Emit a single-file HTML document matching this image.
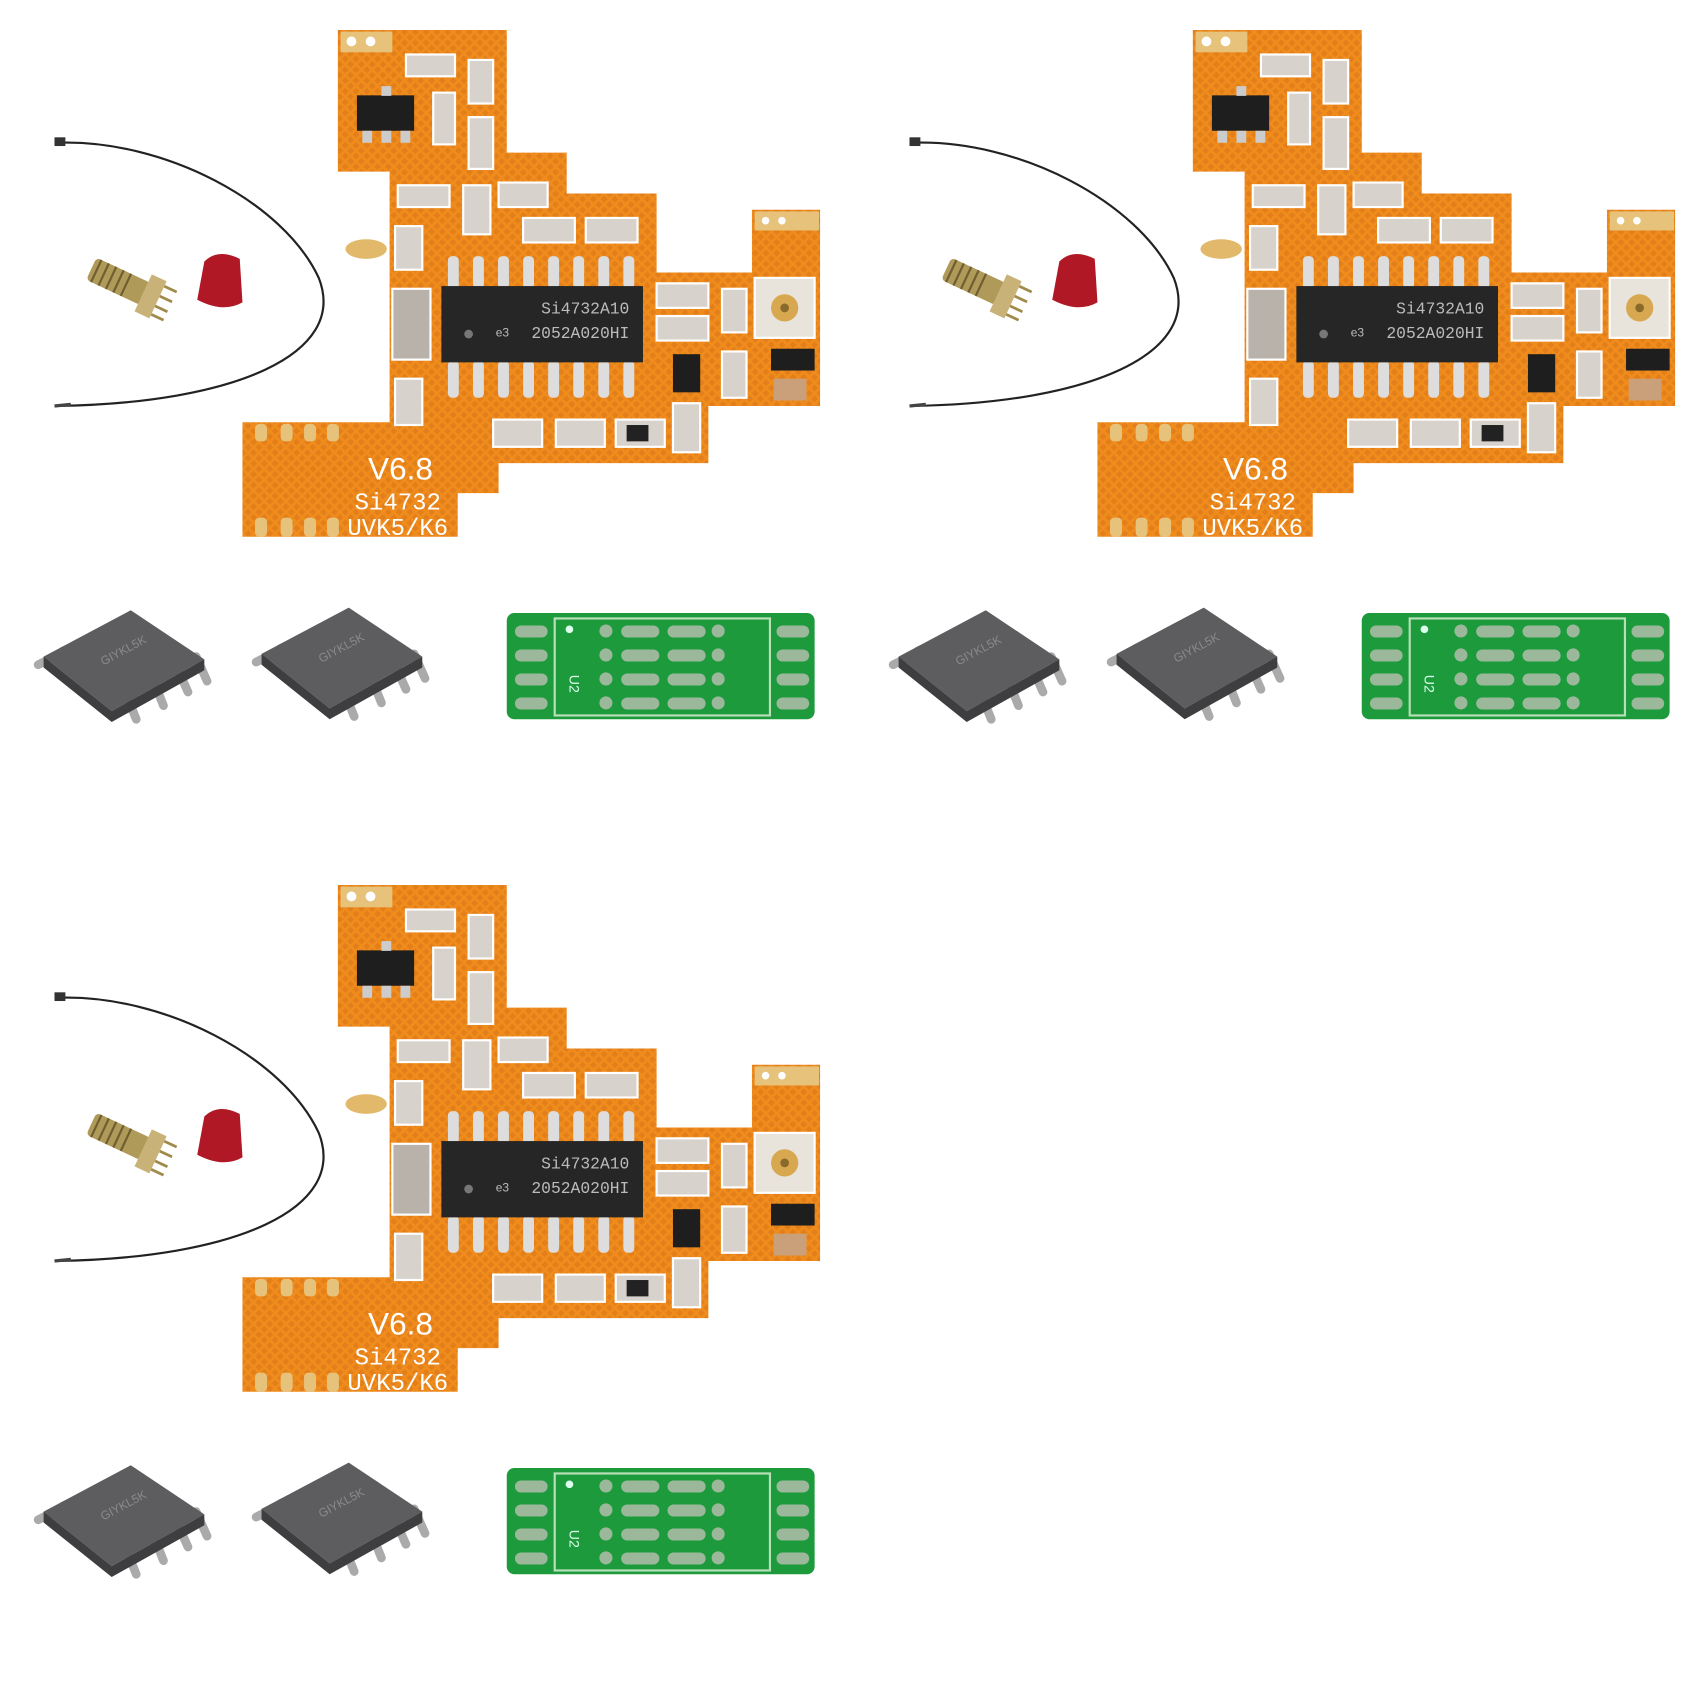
<!DOCTYPE html>
<html><head><meta charset="utf-8"><style>
html,body{margin:0;padding:0;background:#fff;width:1700px;height:1700px;overflow:hidden}
.t{position:absolute;width:850px;height:850px}
</style></head><body>
<svg width="1700" height="1700" style="position:absolute;left:0;top:0">
<defs>
<pattern id="hx" width="14" height="14" patternUnits="userSpaceOnUse" patternTransform="rotate(45)">
<rect width="14" height="14" fill="#ef8c1c"/><rect x="2" y="2" width="9" height="9" fill="#d9741a" opacity="0.55"/>
</pattern>
<g id="tile">
<!-- cable -->
<path d="M105,262 C300,255 520,370 585,510 C640,650 430,740 105,745" fill="none" stroke="#222" stroke-width="4"/>
<rect x="100" y="252" width="20" height="16" fill="#333"/>
<path d="M100,745 l30,-3" stroke="#444" stroke-width="6"/>
<!-- SMA -->
<g transform="rotate(25 230 525)">
<rect x="160" y="500" width="110" height="45" rx="8" fill="#b09a5a"/>
<path d="M170,500 v45 M185,500 v45 M200,500 v45 M215,500 v45 M230,500 v45" stroke="#6e5e30" stroke-width="4"/>
<rect x="265" y="485" width="30" height="75" fill="#c9b277"/>
<path d="M295,495 h25 M295,515 h25 M295,535 h25 M295,552 h25" stroke="#a08a4a" stroke-width="5"/>
</g>
<!-- red cap -->
<path d="M375,480 Q400,455 440,475 L445,555 Q410,575 362,550 Z" fill="#b01825"/>
<!-- board -->
<polygon points="620,55 930,55 930,280 1040,280 1040,355 1205,355 1205,500 1380,500 1380,385 1505,385 1505,745 1300,745 1300,850 915,850 915,905 840,905 840,985 445,985 445,775 715,775 715,315 620,315" fill="url(#hx)"/>
<rect x="625" y="58" width="95" height="38" fill="#e7c27a"/><circle cx="645" cy="76" r="9" fill="#fff"/><circle cx="680" cy="76" r="9" fill="#fff"/>
<rect x="1385" y="388" width="118" height="35" fill="#e7c27a"/><circle cx="1405" cy="405" r="7" fill="#fff"/><circle cx="1435" cy="405" r="7" fill="#fff"/>
<ellipse cx="672" cy="457" rx="38" ry="18" fill="#e2b96a"/>
<g fill="#e7c27a">
<rect x="468" y="778" width="22" height="32" rx="8"/><rect x="515" y="778" width="22" height="32" rx="8"/><rect x="558" y="778" width="22" height="32" rx="8"/><rect x="600" y="778" width="22" height="32" rx="8"/>
<rect x="468" y="950" width="22" height="35" rx="8"/><rect x="515" y="950" width="22" height="35" rx="8"/><rect x="558" y="950" width="22" height="35" rx="8"/><rect x="600" y="950" width="22" height="35" rx="8"/>
</g>
<!-- SOT -->
<rect x="655" y="175" width="105" height="65" fill="#1e1e1e"/>
<rect x="700" y="158" width="18" height="18" fill="#ccc"/><rect x="665" y="240" width="18" height="22" fill="#ccc"/><rect x="700" y="240" width="18" height="22" fill="#ccc"/><rect x="735" y="240" width="18" height="22" fill="#ccc"/>
<!-- passive comps -->
<g fill="#d8d2cc" stroke="#fff" stroke-width="4">
<rect x="745" y="100" width="90" height="40"/><rect x="860" y="110" width="45" height="80"/><rect x="795" y="170" width="40" height="95"/><rect x="860" y="215" width="45" height="95"/>
<rect x="730" y="340" width="95" height="40"/><rect x="850" y="340" width="50" height="90"/><rect x="915" y="335" width="90" height="45"/>
<rect x="960" y="400" width="95" height="45"/><rect x="1075" y="400" width="95" height="45"/><rect x="725" y="415" width="50" height="80"/>
<rect x="720" y="530" width="70" height="130" fill="#b8b2ab"/><rect x="725" y="695" width="50" height="85"/>
<rect x="1205" y="520" width="95" height="45"/><rect x="1205" y="580" width="95" height="45"/><rect x="1325" y="530" width="45" height="80"/><rect x="1325" y="645" width="45" height="85"/>
<rect x="1385" y="510" width="110" height="110" fill="#e8e4dc"/>
<rect x="905" y="770" width="90" height="50"/><rect x="1020" y="770" width="90" height="50"/><rect x="1130" y="770" width="90" height="50"/><rect x="1235" y="740" width="50" height="90"/>
</g>
<circle cx="1440" cy="565" r="25" fill="#d7a850"/><circle cx="1440" cy="565" r="8" fill="#8a6a2a"/>
<rect x="1235" y="650" width="50" height="70" fill="#1e1e1e"/><rect x="1415" y="640" width="80" height="40" fill="#1e1e1e"/><rect x="1150" y="780" width="40" height="30" fill="#222"/>
<rect x="1420" y="695" width="60" height="40" fill="#c9a07a"/>
<!-- chip pins -->
<g fill="#ddd">
<rect x="822" y="470" width="20" height="60" rx="8"/><rect x="868" y="470" width="20" height="60" rx="8"/><rect x="914" y="470" width="20" height="60" rx="8"/><rect x="960" y="470" width="20" height="60" rx="8"/><rect x="1006" y="470" width="20" height="60" rx="8"/><rect x="1052" y="470" width="20" height="60" rx="8"/><rect x="1098" y="470" width="20" height="60" rx="8"/><rect x="1144" y="470" width="20" height="60" rx="8"/>
<rect x="822" y="662" width="20" height="68" rx="8"/><rect x="868" y="662" width="20" height="68" rx="8"/><rect x="914" y="662" width="20" height="68" rx="8"/><rect x="960" y="662" width="20" height="68" rx="8"/><rect x="1006" y="662" width="20" height="68" rx="8"/><rect x="1052" y="662" width="20" height="68" rx="8"/><rect x="1098" y="662" width="20" height="68" rx="8"/><rect x="1144" y="662" width="20" height="68" rx="8"/>
</g>
<rect x="810" y="525" width="370" height="140" fill="#262626"/>
<circle cx="860" cy="613" r="8" fill="#777"/>
<text x="1155" y="575" font-family="Liberation Mono,monospace" font-size="30" fill="#bbb" text-anchor="end">Si4732A10</text>
<text x="1155" y="620" font-family="Liberation Mono,monospace" font-size="30" fill="#bbb" text-anchor="end">2052A020HI</text>
<text x="922" y="618" font-family="Liberation Sans,sans-serif" font-size="22" fill="#bbb" text-anchor="middle">e3</text>
<text x="735" y="880" font-family="Liberation Sans,sans-serif" font-size="58" fill="#fff" text-anchor="middle">V6.8</text>
<text x="730" y="935" font-family="Liberation Mono,monospace" font-size="44" fill="#fff" text-anchor="middle">Si4732</text>
<text x="730" y="982" font-family="Liberation Mono,monospace" font-size="44" fill="#fff" text-anchor="middle">UVK5/K6</text>
<!-- SOIC ICs -->
<g id="ic">
<g stroke="#aaa" stroke-width="16" stroke-linecap="round" fill="none">
<path d="M230,1270 l20,50 M280,1245 l20,50 M325,1225 l20,45 M360,1205 l20,45"/>
<path d="M110,1200 l-40,20 M150,1180 l-35,15 M190,1160 l-30,12 M225,1140 l-25,12"/>
</g>
<polygon points="80,1205 240,1120 375,1210 205,1305" fill="#5d5d5f"/>
<polygon points="205,1305 375,1210 375,1230 205,1325 80,1225 80,1205" fill="#3e3e40"/>
<text x="230" y="1200" font-family="Liberation Sans,sans-serif" font-size="22" fill="#8a8a8a" transform="rotate(-28 230 1200)" text-anchor="middle">GIYKL5K</text>
</g>
<use href="#ic" transform="translate(400,-5)"/>
<!-- green adapter -->
<rect x="930" y="1125" width="565" height="195" rx="14" fill="#1c9a3c"/>
<rect x="1018" y="1135" width="395" height="178" fill="none" stroke="#b8e0b8" stroke-width="4"/>
<g fill="#9bb89b">
<rect x="945" y="1148" width="60" height="22" rx="11"/><rect x="945" y="1192" width="60" height="22" rx="11"/><rect x="945" y="1236" width="60" height="22" rx="11"/><rect x="945" y="1280" width="60" height="22" rx="11"/>
<rect x="1425" y="1148" width="60" height="22" rx="11"/><rect x="1425" y="1192" width="60" height="22" rx="11"/><rect x="1425" y="1236" width="60" height="22" rx="11"/><rect x="1425" y="1280" width="60" height="22" rx="11"/>
<rect x="1140" y="1148" width="70" height="22" rx="11"/><rect x="1140" y="1192" width="70" height="22" rx="11"/><rect x="1140" y="1236" width="70" height="22" rx="11"/><rect x="1140" y="1280" width="70" height="22" rx="11"/>
<rect x="1225" y="1148" width="70" height="22" rx="11"/><rect x="1225" y="1192" width="70" height="22" rx="11"/><rect x="1225" y="1236" width="70" height="22" rx="11"/><rect x="1225" y="1280" width="70" height="22" rx="11"/>
<circle cx="1112" cy="1158" r="12"/><circle cx="1112" cy="1202" r="12"/><circle cx="1112" cy="1246" r="12"/><circle cx="1112" cy="1290" r="12"/>
<circle cx="1318" cy="1158" r="12"/><circle cx="1318" cy="1202" r="12"/><circle cx="1318" cy="1246" r="12"/><circle cx="1318" cy="1290" r="12"/>
</g>
<circle cx="1045" cy="1155" r="7" fill="#dfe"/>
<text x="1045" y="1255" font-family="Liberation Sans,sans-serif" font-size="26" fill="#dfe" transform="rotate(90 1045 1255)" text-anchor="middle">U2</text>
</g>
</defs>
<g transform="scale(0.5449)"><use href="#tile"/></g>
<g transform="translate(855,0) scale(0.5449)"><use href="#tile"/></g>
<g transform="translate(0,855) scale(0.5449)"><use href="#tile"/></g>
</svg>
</body></html>
